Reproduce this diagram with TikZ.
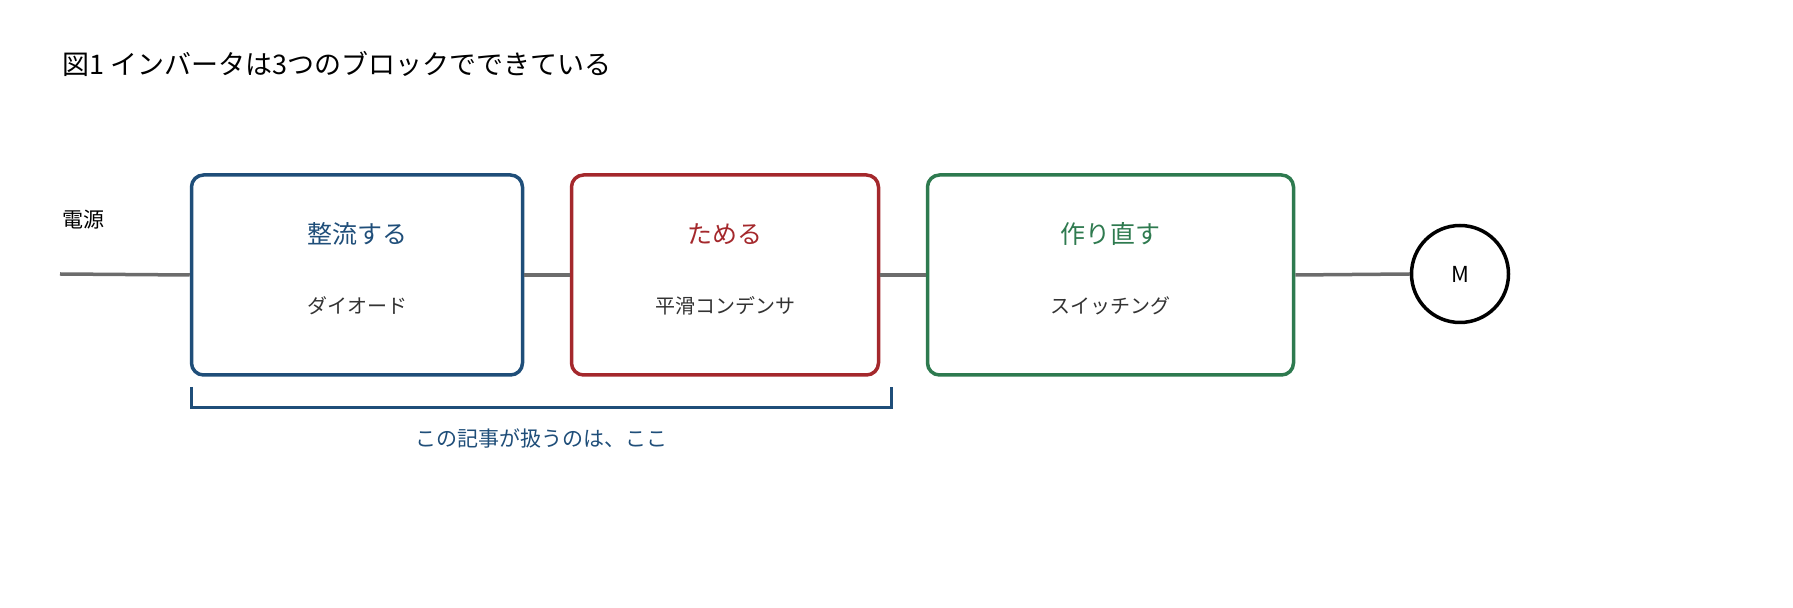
\documentclass[tikz,border=0pt]{standalone}
\usepackage{fontspec}
\setmainfont{Noto Sans CJK JP}
\begin{document}
\begin{tikzpicture}[x=0.5pt,y=-0.5pt,
  blk/.style={draw,line width=1.75pt,rounded corners=6pt,minimum height=100pt,inner sep=0pt},
  wire/.style={draw=gray!85!black,line width=1.75pt},
  ttl/.style={font=\fontsize{12.5}{15}\selectfont},
  sub/.style={font=\fontsize{10}{12}\selectfont,text=black!80}]
\definecolor{cb}{HTML}{1F4E79}\definecolor{cr}{HTML}{A4282C}\definecolor{cg}{HTML}{2E7A4F}
\useasboundingbox (0,0) rectangle (1793,608);
\node[anchor=west,font=\fontsize{13.5}{16}\selectfont,inner sep=0pt] (title) at (62,64) {図1 インバータは3つのブロックでできている};
\node[anchor=west,font=\fontsize{10.5}{12.5}\selectfont,inner sep=0pt] (src) at (62,220) {電源};
\coordinate (s) at (60,274);
\node[blk,draw=cb,minimum width=165.5pt] (b1) at (357,275) {};
\node[blk,draw=cr,minimum width=153.5pt] (b2) at (725,275) {};
\node[blk,draw=cg,minimum width=183pt] (b3) at (1110.5,275) {};
\node[draw,circle,line width=1.75pt,minimum size=48.5pt,inner sep=0pt,font=\fontsize{11}{13}\selectfont] (m) at (1460,274) {M};
\draw[wire] (s) -- (b1.west);
\draw[wire] (b1.east) -- (b2.west);
\draw[wire] (b2.east) -- (b3.west);
\draw[wire] (b3.east) -- (m.west);
\node[ttl,text=cb] (t1) at (357,234) {整流する};
\node[sub] (u1) at (357,306) {ダイオード};
\node[ttl,text=cr] (t2) at (725,234) {ためる};
\node[sub] (u2) at (725,306) {平滑コンデンサ};
\node[ttl,text=cg] (t3) at (1110.5,234) {作り直す};
\node[sub] (u3) at (1110.5,306) {スイッチング};
\coordinate (k1) at (191,387); \coordinate (k2) at (891,387);
\draw[cb,line width=1.5pt] (k1) -- ++(0,21) -| (k2);
\node[text=cb,font=\fontsize{10.5}{12.5}\selectfont] (note) at (541,438) {この記事が扱うのは、ここ};
\end{tikzpicture}
\end{document}
